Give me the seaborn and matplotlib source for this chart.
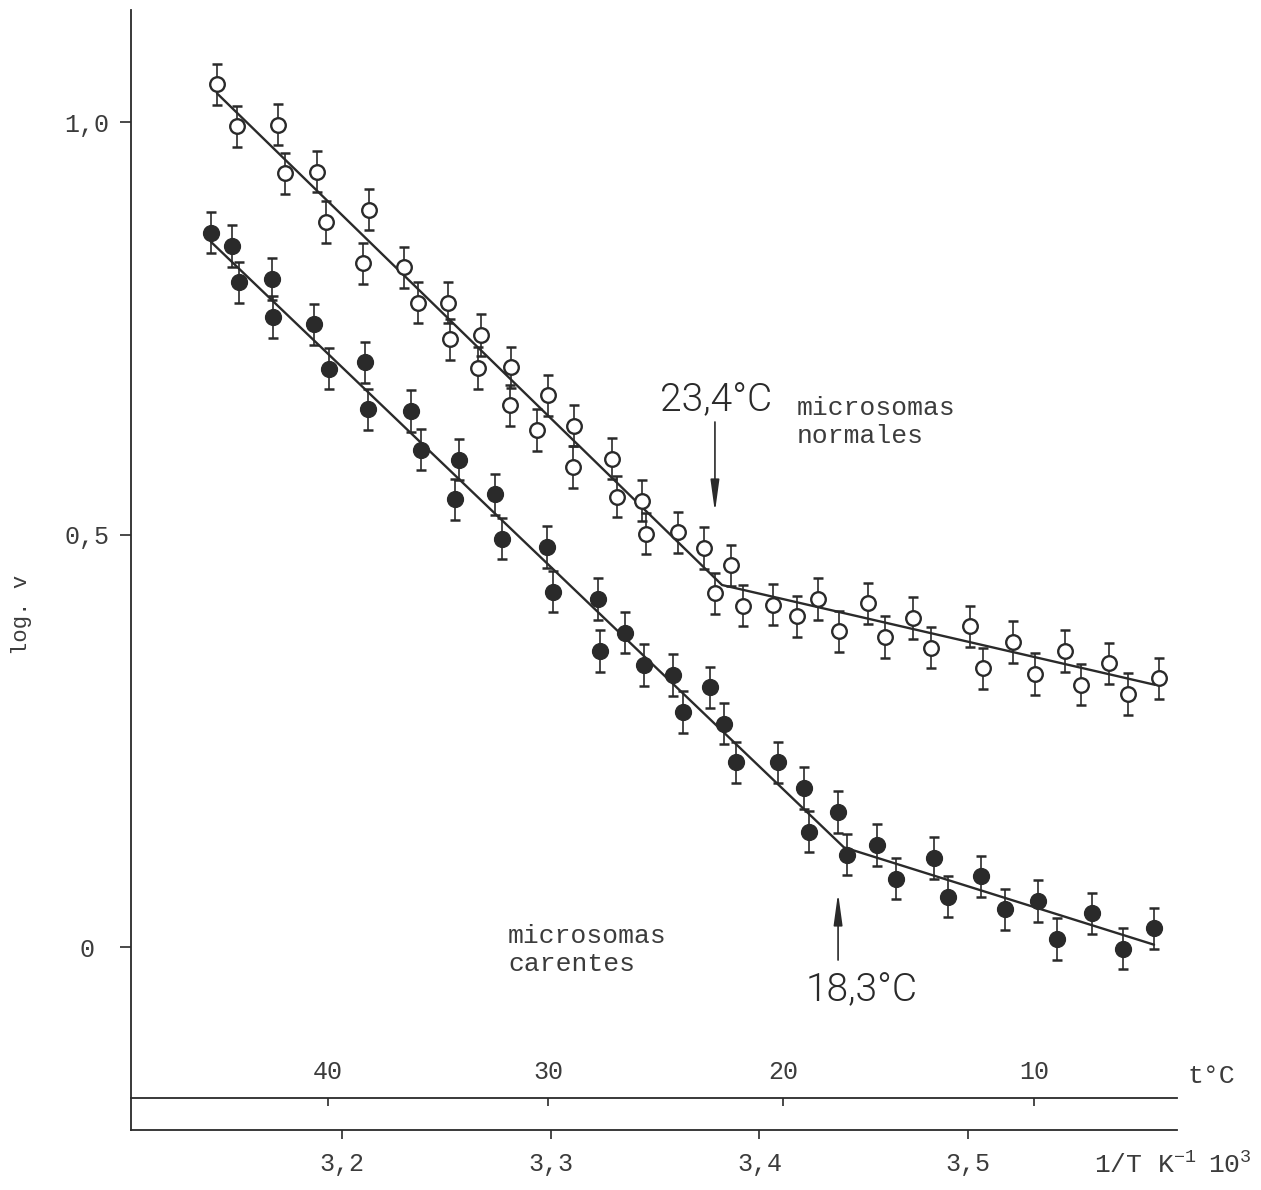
import numpy as np
import pandas as pd
import matplotlib
matplotlib.use("Agg")
import matplotlib.pyplot as plt
import seaborn as sns

# 1/T (K^-1 x 10^3) and log v — normal microsomes
inv_t_normales = [3.1401, 3.1497, 3.1693, 3.1727, 3.1880, 3.1923, 3.2129, 3.2101,
                  3.2297, 3.2364, 3.2508, 3.2517, 3.2666, 3.2652, 3.2810, 3.2805,
                  3.2987, 3.2934, 3.3112, 3.3107, 3.3294, 3.3318, 3.3437, 3.3457,
                  3.3610, 3.3735, 3.3787, 3.3864, 3.3921, 3.4065, 3.4180, 3.4281,
                  3.4381, 3.4520, 3.4602, 3.4736, 3.4822, 3.5009, 3.5071, 3.5215,
                  3.5321, 3.5464, 3.5541, 3.5675, 3.5766, 3.5915]
log_v_normales = [1.046, 0.995, 0.997, 0.938, 0.940, 0.879, 0.894, 0.829,
                  0.824, 0.781, 0.781, 0.737, 0.742, 0.702, 0.703, 0.657,
                  0.669, 0.627, 0.632, 0.582, 0.592, 0.546, 0.541, 0.501,
                  0.503, 0.484, 0.429, 0.463, 0.414, 0.415, 0.401, 0.422,
                  0.383, 0.417, 0.376, 0.399, 0.363, 0.389, 0.338, 0.370,
                  0.331, 0.359, 0.318, 0.344, 0.307, 0.326]

# 1/T (K^-1 x 10^3) and log v — deficient microsomes
inv_t_carentes = [3.1372, 3.1473, 3.1506, 3.1665, 3.1669, 3.1866, 3.1938, 3.2110,
                  3.2125, 3.2331, 3.2379, 3.2561, 3.2541, 3.2733, 3.2767, 3.2982,
                  3.3011, 3.3227, 3.3236, 3.3356, 3.3447, 3.3586, 3.3634, 3.3763,
                  3.3830, 3.3888, 3.4089, 3.4214, 3.4238, 3.4377, 3.4420, 3.4563,
                  3.4655, 3.4837, 3.4904, 3.5062, 3.5177, 3.5335, 3.5426, 3.5594,
                  3.5742, 3.5891]
log_v_carentes = [0.866, 0.850, 0.806, 0.810, 0.764, 0.755, 0.701, 0.709,
                  0.652, 0.650, 0.603, 0.591, 0.543, 0.549, 0.495, 0.485,
                  0.431, 0.422, 0.359, 0.381, 0.342, 0.330, 0.285, 0.315,
                  0.271, 0.224, 0.224, 0.193, 0.140, 0.164, 0.112, 0.124,
                  0.083, 0.108, 0.061, 0.086, 0.046, 0.056, 0.010, 0.041,
                  -0.002, 0.023]

# standard error of log v
log_v_err = 0.025

# Arrhenius fits: two straight segments meeting at the transition
fit_x_normales = [3.1401, 3.3821, 3.5896]
fit_y_normales = [1.035, 0.439, 0.318]
fit_x_carentes = [3.1372, 3.4405, 3.5891]
fit_y_carentes = [0.855, 0.121, 0.003]

y_ticks = [0.0, 0.5, 1.0]
y_tick_labels = ["0", "0,5", "1,0"]
x_ticks = [3.2, 3.3, 3.4, 3.5]
x_tick_labels = ["3,2", "3,3", "3,4", "3,5"]
t_ticks = [40, 30, 20, 10]
t_tick_labels = ["40", "30", "20", "10"]

normales = pd.DataFrame({"inv_t": inv_t_normales, "log_v": log_v_normales})
carentes = pd.DataFrame({"inv_t": inv_t_carentes, "log_v": log_v_carentes})

sns.set_theme(style="white")
plt.rcParams["font.family"] = ["Liberation Mono", "DejaVu Sans"]
plt.rcParams["mathtext.fontset"] = "custom"
plt.rcParams["mathtext.rm"] = "Liberation Mono"

ink = "#2a2a2a"
text_ink = "#3c3c3c"
W, H = 1261, 1190

fig = plt.figure(figsize=(W / 100, H / 100), dpi=100)
fig.patch.set_facecolor("white")
ax = fig.add_axes([131 / W, 1 - 1130 / H, (1177 - 131) / W, (1130 - 10) / H])
ax.set_facecolor("white")

# error bars under the markers
for df in (normales, carentes):
    ax.errorbar(df["inv_t"], df["log_v"], yerr=log_v_err, fmt="none",
                ecolor=ink, elinewidth=1.2, capsize=3.3, capthick=1.8, zorder=2)

# fitted segments
sns.lineplot(x=fit_x_normales, y=fit_y_normales, ax=ax, color=ink, lw=1.7,
             sort=False, zorder=3)
sns.lineplot(x=fit_x_carentes, y=fit_y_carentes, ax=ax, color=ink, lw=1.7,
             sort=False, zorder=3)

# open circles: normal, filled circles: deficient
sns.scatterplot(data=normales, x="inv_t", y="log_v", ax=ax, marker="o", s=110,
                color="white", edgecolor=ink, linewidth=1.7, zorder=4)
sns.scatterplot(data=carentes, x="inv_t", y="log_v", ax=ax, marker="o", s=130,
                color=ink, edgecolor=ink, linewidth=1.0, zorder=4)

ax.set_xlim(3.0989, 3.6001)
ax.set_ylim(-0.2216, 1.136)
ax.set_xlabel("")
ax.set_ylabel("")

for side in ("top", "right"):
    ax.spines[side].set_visible(False)
for side in ("left", "bottom"):
    ax.spines[side].set_visible(True)
    ax.spines[side].set_color(ink)
    ax.spines[side].set_linewidth(1.3)

ax.set_yticks(y_ticks, y_tick_labels)
ax.tick_params(axis="y", direction="out", length=8, width=1.2, color=ink,
               pad=24, labelsize=18, labelcolor=text_ink, left=True)
for lab in ax.get_yticklabels():
    lab.set_horizontalalignment("center")

ax.set_xticks(x_ticks, x_tick_labels)
ax.tick_params(axis="x", direction="out", length=6.5, width=1.2, color=ink,
               pad=9, labelsize=18, labelcolor=text_ink, bottom=True)


def to_celsius(x):
    x = np.asarray(x, dtype=float)
    with np.errstate(divide="ignore", invalid="ignore"):
        return 1000.0 / x - 273.15


def to_inv_t(t):
    t = np.asarray(t, dtype=float)
    with np.errstate(divide="ignore", invalid="ignore"):
        return 1000.0 / (t + 273.15)


# temperature scale drawn just above the 1/T axis
sec = ax.secondary_xaxis((1130 - 1098) / 1120, functions=(to_celsius, to_inv_t))
sec.set_alignment("top")
sec.set_xticks(t_ticks, t_tick_labels)
sec.tick_params(axis="x", direction="in", length=6, width=1.2, color=ink,
                pad=10, labelsize=18, labelcolor=text_ink)
sec.spines["top"].set_color(ink)
sec.spines["top"].set_linewidth(1.3)

fig.text(1211 / W, 1 - 1076 / H, "t°C", ha="center", va="center",
         fontsize=19, color=text_ink)
fig.text(1094 / W, 1 - 1165 / H, r"1/T K$^{-1}$", ha="left",
         va="center", fontsize=19, color=text_ink)
fig.text(1208 / W, 1 - 1165 / H, r"10$^{3}$", ha="left",
         va="center", fontsize=19, color=text_ink)
fig.text(22 / W, 1 - 615 / H, "log. v", rotation=90, ha="center",
         va="center", fontsize=16, color=text_ink)

# labels for both curves
fig.text(797 / W, 1 - 396 / H, "microsomas\nnormales", ha="left", va="top",
         fontsize=19, color=text_ink, linespacing=1.2)
fig.text(508 / W, 1 - 924 / H, "microsomas\ncarentes", ha="left", va="top",
         fontsize=19, color=text_ink, linespacing=1.2)

# transition temperatures
hand = dict(family=["Roboto", "DejaVu Sans"], fontweight=300, color=ink)
ax.annotate("", xy=(3.3787, 0.5275), xytext=(3.3787, 0.6366),
            arrowprops=dict(arrowstyle="-|>,head_length=1.6,head_width=0.22",
                            color=ink, lw=1.2, shrinkA=0, shrinkB=0))
ax.text(3.3792, 0.663, "23,4°C", ha="center", va="center", fontsize=28, **hand)
ax.annotate("", xy=(3.4377, 0.0657), xytext=(3.4377, -0.0156),
            arrowprops=dict(arrowstyle="-|>,head_length=1.6,head_width=0.22",
                            color=ink, lw=1.2, shrinkA=0, shrinkB=0))
ax.text(3.4492, -0.052, "18,3°C", ha="center", va="center", fontsize=28, **hand)

fig.savefig("out.png", dpi=100, facecolor="white")
